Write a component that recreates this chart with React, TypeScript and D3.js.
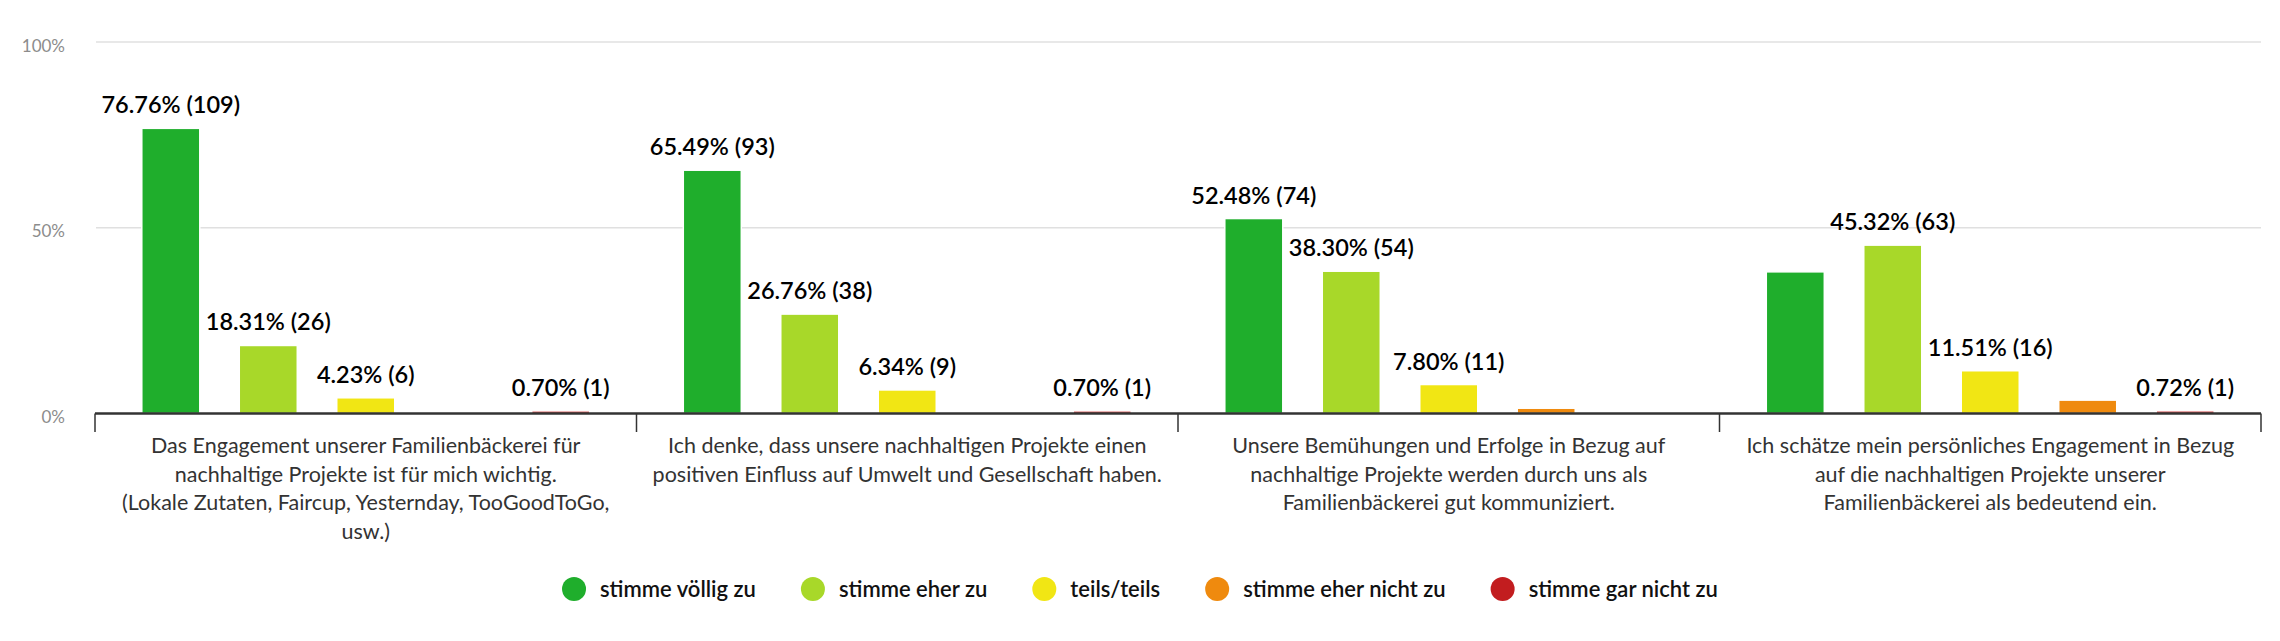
import React, { useEffect, useRef } from 'react';
import * as d3 from 'd3';

const categoryLines: string[][] = [
  ['Das Engagement unserer Familienbäckerei für', 'nachhaltige Projekte ist für mich wichtig.', '(Lokale Zutaten, Faircup, Yesternday, TooGoodToGo,', 'usw.)'],
  ['Ich denke, dass unsere nachhaltigen Projekte einen', 'positiven Einfluss auf Umwelt und Gesellschaft haben.'],
  ['Unsere Bemühungen und Erfolge in Bezug auf', 'nachhaltige Projekte werden durch uns als', 'Familienbäckerei gut kommuniziert.'],
  ['Ich schätze mein persönliches Engagement in Bezug', 'auf die nachhaltigen Projekte unserer', 'Familienbäckerei als bedeutend ein.'],
];

const seriesNames = ['stimme völlig zu', 'stimme eher zu', 'teils/teils', 'stimme eher nicht zu', 'stimme gar nicht zu'];
const seriesColors = ['#1fae2c', '#a8d829', '#f1e614', '#ef8a0e', '#c21d1f'];

// percentages per series, one value per category
const pctVoellig = [76.76, 65.49, 52.48, 38.13];
const pctEher = [18.31, 26.76, 38.3, 45.32];
const pctTeils = [4.23, 6.34, 7.8, 11.51];
const pctEherNicht = [0, 0, 1.42, 3.6];
const pctGarNicht = [0.7, 0.7, 0, 0.72];

// answer counts per series, one value per category
const cntVoellig = [109, 93, 74, 53];
const cntEher = [26, 38, 54, 63];
const cntTeils = [6, 9, 11, 16];
const cntEherNicht = [0, 0, 2, 5];
const cntGarNicht = [1, 1, 0, 1];

// labels the original hides because they overlap: [category, series]
const hiddenLabels: [number, number][] = [[2, 3], [3, 0], [3, 3]];

const yTicks = [0, 50, 100];

const pctSeries = [pctVoellig, pctEher, pctTeils, pctEherNicht, pctGarNicht];
const cntSeries = [cntVoellig, cntEher, cntTeils, cntEherNicht, cntGarNicht];

const W = 2280;
const H = 641;
const FONT = 'Lato, "Noto Sans", sans-serif';

export default function App() {
  const ref = useRef<SVGSVGElement>(null);

  useEffect(() => {
    const svg = d3.select(ref.current);
    svg.selectAll('*').remove();

    const x0 = d3.scaleBand<number>().domain(d3.range(categoryLines.length)).range([95, 2261]);
    const x1 = d3
      .scaleBand<number>()
      .domain(d3.range(seriesNames.length))
      .range([0, x0.bandwidth()])
      .paddingInner(0.405)
      .paddingOuter(0.48);
    const y = d3.scaleLinear().domain([0, 100]).range([413.5, 42]);

    // gridlines
    svg
      .append('g')
      .selectAll('line')
      .data(yTicks.filter((t) => t > 0))
      .join('line')
      .attr('x1', 96)
      .attr('x2', 2261)
      .attr('y1', (d) => y(d))
      .attr('y2', (d) => y(d))
      .attr('stroke', '#e0e0e0')
      .attr('stroke-width', 1.5);

    // y tick labels
    svg
      .append('g')
      .selectAll('text')
      .data(yTicks)
      .join('text')
      .attr('x', 65)
      .attr('y', (d) => y(d) + 9.5)
      .attr('text-anchor', 'end')
      .attr('font-family', FONT)
      .attr('font-size', 17)
      .attr('fill', '#8c8c8c')
      .text((d) => `${d}%`);

    // bars
    const cells: { c: number; s: number; v: number; n: number }[] = [];
    pctSeries.forEach((arr, s) => arr.forEach((v, c) => cells.push({ c, s, v, n: cntSeries[s][c] })));

    svg
      .append('g')
      .selectAll('rect')
      .data(cells.filter((d) => d.v > 0))
      .join('rect')
      .attr('x', (d) => (x0(d.c) as number) + (x1(d.s) as number))
      .attr('width', x1.bandwidth())
      .attr('y', (d) => y(d.v))
      .attr('height', (d) => y(0) - y(d.v))
      .attr('fill', (d) => seriesColors[d.s])
      .attr('stroke', '#ffffff')
      .attr('stroke-width', 1.5);

    // data labels
    const isHidden = (d: { c: number; s: number }) => hiddenLabels.some(([c, s]) => c === d.c && s === d.s);
    svg
      .append('g')
      .selectAll('text')
      .data(cells.filter((d) => d.v > 0 && !isHidden(d)))
      .join('text')
      .attr('x', (d) => (x0(d.c) as number) + (x1(d.s) as number) + x1.bandwidth() / 2)
      .attr('y', (d) => y(d.v) - 15)
      .attr('text-anchor', 'middle')
      .attr('font-family', FONT)
      .attr('font-size', 23.5)
      .attr('font-weight', 600)
      .attr('fill', '#000000')
      .text((d) => `${d.v.toFixed(2)}% (${d.n})`);

    // x axis
    svg
      .append('line')
      .attr('x1', 95)
      .attr('x2', 2261)
      .attr('y1', y(0))
      .attr('y2', y(0))
      .attr('stroke', '#333333')
      .attr('stroke-width', 2.5);

    svg
      .append('g')
      .selectAll('line')
      .data(d3.range(categoryLines.length + 1))
      .join('line')
      .attr('x1', (i) => (i < categoryLines.length ? (x0(i) as number) : x0.range()[1]))
      .attr('x2', (i) => (i < categoryLines.length ? (x0(i) as number) : x0.range()[1]))
      .attr('y1', y(0))
      .attr('y2', 432)
      .attr('stroke', '#333333')
      .attr('stroke-width', 1.5);

    // category labels
    const catG = svg
      .append('g')
      .selectAll('text')
      .data(categoryLines)
      .join('text')
      .attr('text-anchor', 'middle')
      .attr('font-family', FONT)
      .attr('font-size', 21.5)
      .attr('fill', '#333333');
    catG
      .selectAll('tspan')
      .data((d, i) => d.map((line) => ({ line, i })))
      .join('tspan')
      .attr('x', (d) => (x0(d.i) as number) + x0.bandwidth() / 2)
      .attr('y', (_d, k) => 453 + k * 28.7)
      .text((d) => d.line);

    // legend
    const legend = svg.append('g');
    const items = legend
      .selectAll('g')
      .data(seriesNames)
      .join('g');
    items
      .append('circle')
      .attr('r', 12)
      .attr('cy', 589)
      .attr('fill', (_d, i) => seriesColors[i]);
    items
      .append('text')
      .attr('y', 596.5)
      .attr('font-family', FONT)
      .attr('font-size', 22)
      .attr('font-weight', 600)
      .attr('fill', '#111111')
      .text((d) => d);

    const widths: number[] = [];
    items.each(function () {
      const t = d3.select(this).select('text').node() as SVGTextElement;
      widths.push(t.getComputedTextLength());
    });
    const gapText = 14;
    const gapItem = 45;
    const itemW = widths.map((w) => 24 + gapText + w);
    const total = d3.sum(itemW) + gapItem * (itemW.length - 1);
    let cx = W / 2 - total / 2;
    items.each(function (_d, i) {
      const g = d3.select(this);
      g.select('circle').attr('cx', cx + 12);
      g.select('text').attr('x', cx + 24 + gapText);
      cx += itemW[i] + gapItem;
    });
  }, []);

  return (
    <svg
      ref={ref}
      width={W}
      height={H}
      style={{ position: 'absolute', left: 0, top: 0, background: '#ffffff' }}
    />
  );
}
